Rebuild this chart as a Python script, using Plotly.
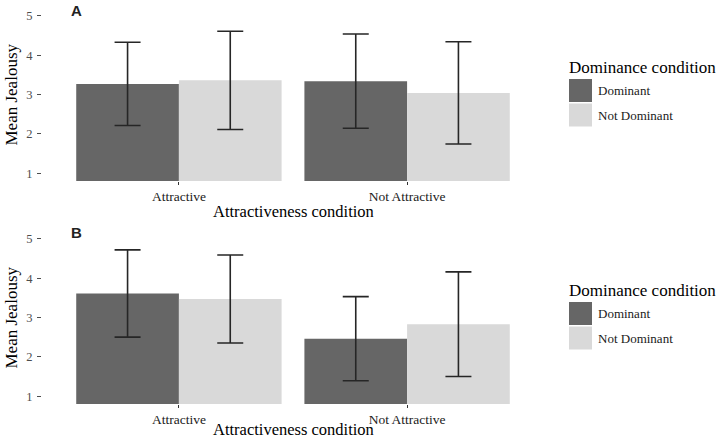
import plotly.graph_objects as go

# ---- data ----
categories = ["Attractive", "Not Attractive"]
groups = ["Dominant", "Not Dominant"]
panel_labels = ["A", "B"]

# Panel A
a_dominant_mean = [3.27, 3.34]
a_dominant_err = [1.06, 1.20]
a_notdom_mean = [3.36, 3.04]
a_notdom_err = [1.25, 1.30]

# Panel B
b_dominant_mean = [3.61, 2.46]
b_dominant_err = [1.11, 1.07]
b_notdom_mean = [3.47, 2.83]
b_notdom_err = [1.12, 1.33]

y_ticks = [1, 2, 3, 4, 5]

# ---- styling ----
colors = {"Dominant": "#666666", "Not Dominant": "#D9D9D9"}
SERIF = "Liberation Serif"
SANS = "Liberation Sans"

W, H = 720, 438
L, R, T, B = 42, 544, 8, 404


def px(x):
    return (x - L) / (R - L)


def py(y):
    return (B - y) / (B - T)


fig = go.Figure()

panels = [
    ("y", (a_dominant_mean, a_dominant_err, a_notdom_mean, a_notdom_err)),
    ("y2", (b_dominant_mean, b_dominant_err, b_notdom_mean, b_notdom_err)),
]

for i, (yax, (dm, de, nm, ne)) in enumerate(panels):
    xax = "x" if i == 0 else "x2"
    for g, m, e in [("Dominant", dm, de), ("Not Dominant", nm, ne)]:
        fig.add_trace(go.Bar(
            x=categories, y=m, name=g, showlegend=False,
            marker=dict(color=colors[g], line=dict(width=0)),
            error_y=dict(type="data", array=e, visible=True,
                         color="#262626", thickness=1.6, width=13),
            xaxis=xax, yaxis=yax, offsetgroup=g,
        ))

axis_common_x = dict(
    type="category", range=[-0.6, 1.6], showgrid=False, zeroline=False,
    showline=False, ticks="outside", ticklen=3, tickcolor="#333333",
    tickfont=dict(family=SERIF, size=13.5, color="#1a1a1a"),
    automargin=False,
)
axis_common_y = dict(
    range=[0.8, 5.2], tickvals=y_ticks, showgrid=False, zeroline=False,
    showline=False, ticks="outside", ticklen=4, tickcolor="#4d4d4d",
    tickfont=dict(family=SERIF, size=12.5, color="#4d4d4d"),
    ticksuffix="\u00a0", ticklabelstandoff=2, automargin=False,
)

topA_dom = [py(181), 1.0]
topB_dom = [0.0, py(231)]

fig.update_layout(
    width=W, height=H,
    margin=dict(l=L, r=W - R, t=T, b=H - B),
    paper_bgcolor="white", plot_bgcolor="white",
    barmode="group", bargap=0.1, bargroupgap=0.0,
    showlegend=False,
    xaxis=dict(domain=[0, 1], anchor="y", **axis_common_x),
    yaxis=dict(domain=topA_dom, anchor="x", **axis_common_y),
    xaxis2=dict(domain=[0, 1], anchor="y2", **axis_common_x),
    yaxis2=dict(domain=topB_dom, anchor="x2", **axis_common_y),
    font=dict(family=SERIF),
)

annotations = []
shapes = []
for i, (off, xoff) in enumerate([(0, 0), (223, 218)]):
    # axis titles
    annotations.append(dict(
        text="Attractiveness condition", xref="paper", yref="paper",
        x=0.5, y=py(211 + xoff), xanchor="center", yanchor="middle",
        showarrow=False, font=dict(family=SERIF, size=16.5, color="#000000")))
    annotations.append(dict(
        text="Mean Jealousy", xref="paper", yref="paper",
        x=px(11), y=py(94.5 + off), xanchor="center", yanchor="middle",
        textangle=-90, showarrow=False,
        font=dict(family=SERIF, size=17, color="#000000")))
    # panel label
    annotations.append(dict(
        text="<b>%s</b>" % panel_labels[i], xref="paper", yref="paper",
        x=px(69), y=py(10 + off), xanchor="left", yanchor="middle",
        showarrow=False, font=dict(family=SANS, size=15, color="#222222")))
    # legend
    annotations.append(dict(
        text="Dominance condition", xref="paper", yref="paper",
        x=px(567), y=py(67 + off), xanchor="left", yanchor="middle",
        showarrow=False, font=dict(family=SERIF, size=17, color="#000000")))
    for j, g in enumerate(groups):
        y0 = 79 + j * 24.5 + off
        shapes.append(dict(
            type="rect", xref="paper", yref="paper",
            x0=px(569), x1=px(592), y0=py(y0), y1=py(y0 + 23),
            fillcolor=colors[g], line=dict(width=0)))
        annotations.append(dict(
            text=g, xref="paper", yref="paper",
            x=px(596), y=py(y0 + 11.5), xanchor="left", yanchor="middle",
            showarrow=False, font=dict(family=SERIF, size=13, color="#1a1a1a")))

fig.update_layout(annotations=annotations, shapes=shapes)

fig.write_html(
    "out.html",
    config={"displayModeBar": False},
    post_script="document.body.style.margin='0';",
)
